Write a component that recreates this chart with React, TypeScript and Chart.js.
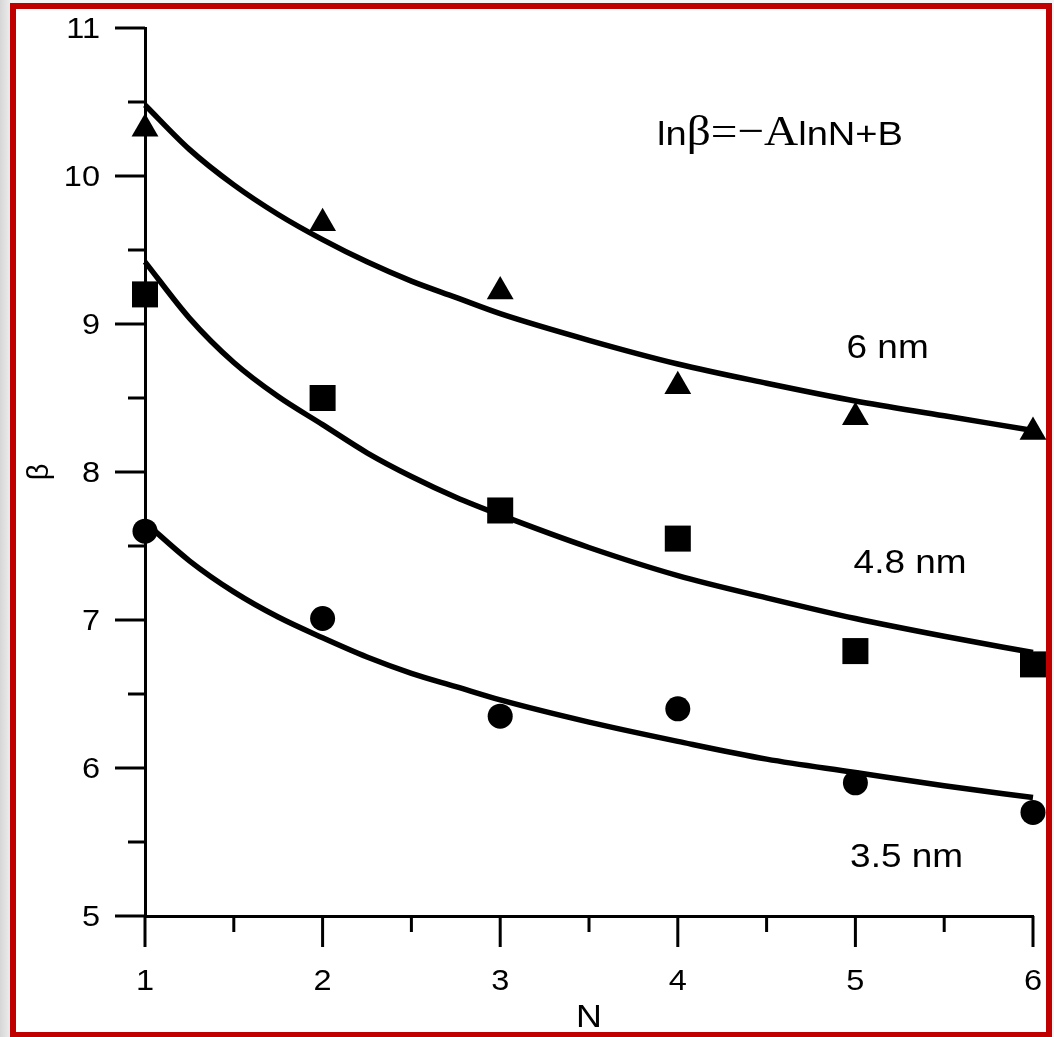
import React, { useEffect, useRef } from "react";
import { Chart, registerables } from "chart.js";

Chart.register(...registerables);

// ---- data ----
const N_VALUES = [1, 2, 3, 4, 5, 6];
const BETA_6NM = [10.32, 9.68, 9.22, 8.58, 8.37, 8.27];
const BETA_48NM = [9.2, 8.5, 7.74, 7.55, 6.79, 6.7];
const BETA_35NM = [7.6, 7.01, 6.35, 6.4, 5.9, 5.7];

// fitted curves (lnβ = −A lnN + B)
const FIT_N = [1, 1.25, 1.5, 1.75, 2, 2.25, 2.5, 2.75, 3, 3.5, 4, 4.5, 5, 5.5, 6];
const FIT_6NM = [10.48, 10.18, 9.94, 9.74, 9.57, 9.42, 9.29, 9.18, 9.07, 8.89, 8.73, 8.6, 8.48, 8.38, 8.28];
const FIT_48NM = [9.42, 9.04, 8.74, 8.51, 8.32, 8.13, 7.97, 7.83, 7.71, 7.49, 7.3, 7.15, 7.01, 6.89, 6.78];
const FIT_35NM = [7.66, 7.4, 7.19, 7.02, 6.88, 6.75, 6.64, 6.55, 6.46, 6.31, 6.18, 6.06, 5.97, 5.88, 5.8];

const X_TICKS = [1, 2, 3, 4, 5, 6];
const Y_TICKS = [5, 6, 7, 8, 9, 10, 11];
const SERIES_LABELS = ["6 nm", "4.8 nm", "3.5 nm"];
const X_TITLE = "N";
const Y_TITLE = "β";
const FORMULA_PARTS = ["ln", "β=−A", "lnN+B"];

// annotation anchors (data units)
const LABEL_ANCHOR_N = [4.95, 4.99, 4.97];
const LABEL_ANCHOR_BETA = [8.77, 7.32, 5.33];
const FORMULA_ANCHOR = { n: 3.883, beta: 10.21 };

const SANS = '"Liberation Sans", Arial, sans-serif';
const SERIF = '"Liberation Serif", "Times New Roman", serif';
const SX = 1.12;

function drawText(
  ctx: CanvasRenderingContext2D,
  text: string,
  x: number,
  y: number,
  font: string,
  align: CanvasTextAlign,
  sx: number
): number {
  ctx.save();
  ctx.font = font;
  ctx.textAlign = align;
  ctx.textBaseline = "alphabetic";
  ctx.fillStyle = "#000";
  ctx.translate(x, y);
  ctx.scale(sx, 1);
  ctx.fillText(text, 0, 0);
  const w = ctx.measureText(text).width * sx;
  ctx.restore();
  return w;
}

const decorPlugin = {
  id: "decor",
  afterDraw(chart: any) {
    const ctx: CanvasRenderingContext2D = chart.ctx;
    const xs = chart.scales.x;
    const ys = chart.scales.y;
    const area = chart.chartArea;

    // ticks
    ctx.save();
    ctx.strokeStyle = "#000";
    ctx.lineWidth = 3;
    ctx.lineCap = "butt";
    for (let v = ys.min; v <= ys.max + 1e-9; v += 0.5) {
      const y = ys.getPixelForValue(v);
      const major = Math.abs(v - Math.round(v)) < 1e-9;
      const len = major ? 30 : 17;
      ctx.beginPath();
      ctx.moveTo(area.left, y);
      ctx.lineTo(area.left - len, y);
      ctx.stroke();
    }
    for (let v = xs.min; v <= xs.max + 1e-9; v += 0.5) {
      const x = xs.getPixelForValue(v);
      const major = Math.abs(v - Math.round(v)) < 1e-9;
      const len = major ? 31 : 16;
      ctx.beginPath();
      ctx.moveTo(x, area.bottom);
      ctx.lineTo(x, area.bottom + len);
      ctx.stroke();
    }
    ctx.restore();

    // tick labels
    Y_TICKS.forEach((v) => {
      drawText(ctx, String(v), area.left - 45, ys.getPixelForValue(v) + 10, `29px ${SANS}`, "right", SX);
    });
    X_TICKS.forEach((v) => {
      drawText(ctx, String(v), xs.getPixelForValue(v), area.bottom + 74, `29px ${SANS}`, "center", SX);
    });

    // axis titles
    drawText(ctx, X_TITLE, (area.left + area.right) / 2, area.bottom + 111, `32px ${SANS}`, "center", SX);
    ctx.save();
    ctx.translate(40, (area.top + area.bottom) / 2);
    ctx.rotate(-Math.PI / 2);
    ctx.font = `29px ${SANS}`;
    ctx.textAlign = "center";
    ctx.textBaseline = "middle";
    ctx.fillStyle = "#000";
    ctx.fillText(Y_TITLE, 0, 0);
    ctx.restore();

    // series labels
    SERIES_LABELS.forEach((t, i) => {
      drawText(
        ctx,
        t,
        xs.getPixelForValue(LABEL_ANCHOR_N[i]),
        ys.getPixelForValue(LABEL_ANCHOR_BETA[i]),
        `33px ${SANS}`,
        "left",
        SX
      );
    });

    // formula
    let fx = xs.getPixelForValue(FORMULA_ANCHOR.n);
    const fy = ys.getPixelForValue(FORMULA_ANCHOR.beta);
    fx += drawText(ctx, FORMULA_PARTS[0], fx, fy, `34px ${SANS}`, "left", SX);
    fx += drawText(ctx, FORMULA_PARTS[1], fx, fy, `43px ${SERIF}`, "left", 1.1);
    drawText(ctx, FORMULA_PARTS[2], fx, fy, `34px ${SANS}`, "left", SX);
  },
};

function toXY(xs: number[], ys: number[]) {
  return xs.map((x, i) => ({ x, y: ys[i] }));
}

export default function App() {
  const canvasRef = useRef<HTMLCanvasElement | null>(null);

  useEffect(() => {
    if (!canvasRef.current) return;
    const fitStyle = {
      showLine: true,
      borderColor: "#000",
      borderWidth: 5.5,
      pointRadius: 0,
      cubicInterpolationMode: "monotone" as const,
      fill: false,
      clip: false as any,
    };
    const markStyle = {
      showLine: false,
      backgroundColor: "#000",
      borderColor: "#000",
      borderWidth: 0,
      clip: false as any,
    };
    const chart = new Chart(canvasRef.current, {
      type: "scatter",
      data: {
        datasets: [
          { label: "fit 6 nm", data: toXY(FIT_N, FIT_6NM), ...fitStyle },
          { label: "fit 4.8 nm", data: toXY(FIT_N, FIT_48NM), ...fitStyle },
          { label: "fit 3.5 nm", data: toXY(FIT_N, FIT_35NM), ...fitStyle },
          { label: SERIES_LABELS[0], data: toXY(N_VALUES, BETA_6NM), pointStyle: "triangle", pointRadius: 15.5, ...markStyle },
          { label: SERIES_LABELS[1], data: toXY(N_VALUES, BETA_48NM), pointStyle: "rect", pointRadius: 18.4, ...markStyle },
          { label: SERIES_LABELS[2], data: toXY(N_VALUES, BETA_35NM), pointStyle: "circle", pointRadius: 12.5, ...markStyle },
        ] as any,
      },
      options: {
        responsive: false,
        animation: false,
        events: [],
        layout: { padding: { left: 145, top: 28, right: 21, bottom: 121 } },
        plugins: { legend: { display: false }, tooltip: { enabled: false } },
        scales: {
          x: {
            type: "linear",
            min: 1,
            max: 6,
            afterFit: (s: any) => { s.height = 0; },
            ticks: { display: false, stepSize: 1 },
            grid: { display: true, drawOnChartArea: false, drawTicks: false },
            border: { display: true, color: "#000", width: 3 },
          },
          y: {
            type: "linear",
            min: 5,
            max: 11,
            afterFit: (s: any) => { s.width = 0; },
            ticks: { display: false, stepSize: 1 },
            grid: { display: true, drawOnChartArea: false, drawTicks: false },
            border: { display: true, color: "#000", width: 3 },
          },
        },
      } as any,
      plugins: [decorPlugin],
    });
    return () => chart.destroy();
  }, []);

  return (
    <div
      style={{
        position: "fixed",
        left: 0,
        top: 0,
        width: 1054,
        height: 1037,
        overflow: "hidden",
        background: "linear-gradient(to right, #d6d6d6 0px, #ececec 10px, #f4f4f4 10px)",
      }}
    >
      <div
        style={{
          position: "absolute",
          left: 10,
          top: 3,
          width: 1042,
          height: 1035,
          boxSizing: "border-box",
          border: "6px solid #c00000",
          background: "#fff",
        }}
      />
      <canvas
        ref={canvasRef}
        width={1054}
        height={1037}
        style={{ position: "absolute", left: 0, top: 0, width: 1054, height: 1037 }}
      />
    </div>
  );
}
